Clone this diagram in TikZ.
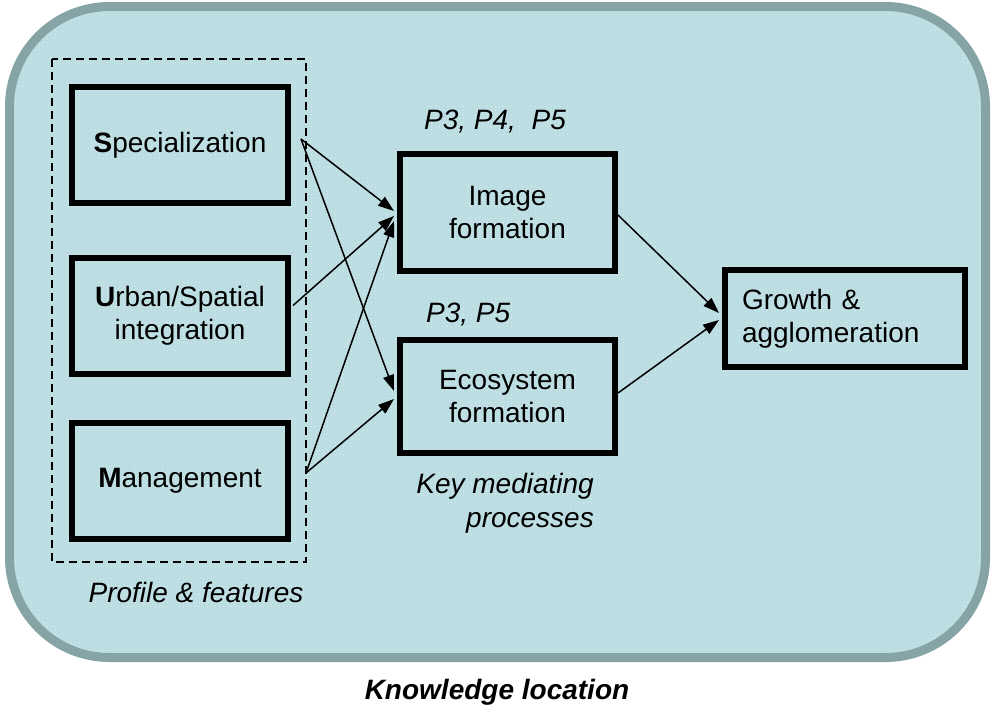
\documentclass[tikz,border=0pt]{standalone}
\usepackage{fontspec}
\setmainfont{Liberation Sans}
\usetikzlibrary{arrows.meta,calc,patterns.meta}

\definecolor{panelfill}{HTML}{BCDEE3}
\definecolor{panelline}{HTML}{86A3A6}
\definecolor{paneldot}{HTML}{E2F1F3}

\tikzset{
  blockbox/.style={draw=black, line width=6pt, inner sep=0pt, align=center,
    font=\fontsize{28}{33}\selectfont},
  label/.style={inner sep=0pt, font=\fontsize{28}{33}\selectfont\itshape},
  link/.style={line width=1.5pt, -{Triangle[length=16pt,width=11pt]}}
}

\begin{document}
\begin{tikzpicture}[x=1pt, y=-1pt]
  \useasboundingbox (0,0) rectangle (994,710);

  % shaded panel with a dotted texture
  \fill[panelfill, rounded corners=100pt] (9.5,6.5) rectangle (985.5,657.5);
  \fill[pattern={Dots[distance=4pt, radius=0.55pt]}, pattern color=paneldot,
        rounded corners=100pt] (9.5,6.5) rectangle (985.5,657.5);
  \draw[panelline, line width=9pt, rounded corners=100pt]
        (9.5,6.5) rectangle (985.5,657.5);

  % group frame around the three features
  \draw[line width=2pt, dash pattern=on 8pt off 5pt] (52,59) rectangle (306,562);

  % feature boxes
  \node[blockbox, minimum width=216pt, minimum height=116pt] (spec) at (180,145)
    {\textbf{S}pecialization};
  \node[blockbox, minimum width=216pt, minimum height=116pt] (urban) at (180,315.5)
    {\textbf{U}rban/Spatial\\integration};
  \node[blockbox, minimum width=216pt, minimum height=116pt] (mgmt) at (180,481)
    {\textbf{M}anagement};

  % mediating processes
  \node[blockbox, minimum width=215pt, minimum height=117pt] (img) at (507.5,212.5)
    {Image\\formation};
  \node[blockbox, minimum width=215pt, minimum height=113pt] (eco) at (507.5,396.5)
    {Ecosystem\\formation};

  % outcome
  \node[blockbox, minimum width=240pt, minimum height=97pt, text width=206pt,
        align=left] (grow) at (845,318.5) {Growth \&\\agglomeration};

  % labels
  \node[label, anchor=base west] (p345) at (424,129) {P3, P4,\ \ P5};
  \node[label, anchor=base west] (p35) at (426,322) {P3, P5};
  \node[label, anchor=base east] (keyA) at (594,493) {Key mediating};
  \node[label, anchor=base east] (keyB) at (594,527) {processes};
  \node[label, anchor=base] (prof) at (196,602) {Profile \& features};
  \node[label, anchor=base, font=\fontsize{28}{33}\selectfont\bfseries\itshape]
    (know) at (497,699) {Knowledge location};

  % connector end points
  \coordinate (sS) at ($(spec.east)+(10,-6)$);
  \coordinate (sU) at ($(urban.east)+(2,-10)$);
  \coordinate (sM) at ($(mgmt.east)+(15,-8)$);
  \coordinate (iS) at ($(img.west)+(-3,-1.5)$);
  \coordinate (iU) at ($(img.west)+(-3,3.5)$);
  \coordinate (iM) at ($(img.west)+(-3,8.5)$);
  \coordinate (eS) at ($(eco.west)+(-3,-5.5)$);
  \coordinate (eM) at ($(eco.west)+(-3,2.5)$);
  \coordinate (gI) at ($(grow.west)+(-3,-5.5)$);
  \coordinate (gE) at ($(grow.west)+(-3,1.5)$);

  % connectors
  \draw[link] (sS) -- (iS);
  \draw[link] (sS) -- (eS);
  \draw[link] (sU) -- (iU);
  \draw[link] (sM) -- (iM);
  \draw[link] (sM) -- (eM);
  \draw[link] ($(img.east)+(0,2.5)$) -- (gI);
  \draw[link] ($(eco.east)+(0,-3.5)$) -- (gE);
\end{tikzpicture}
\end{document}
